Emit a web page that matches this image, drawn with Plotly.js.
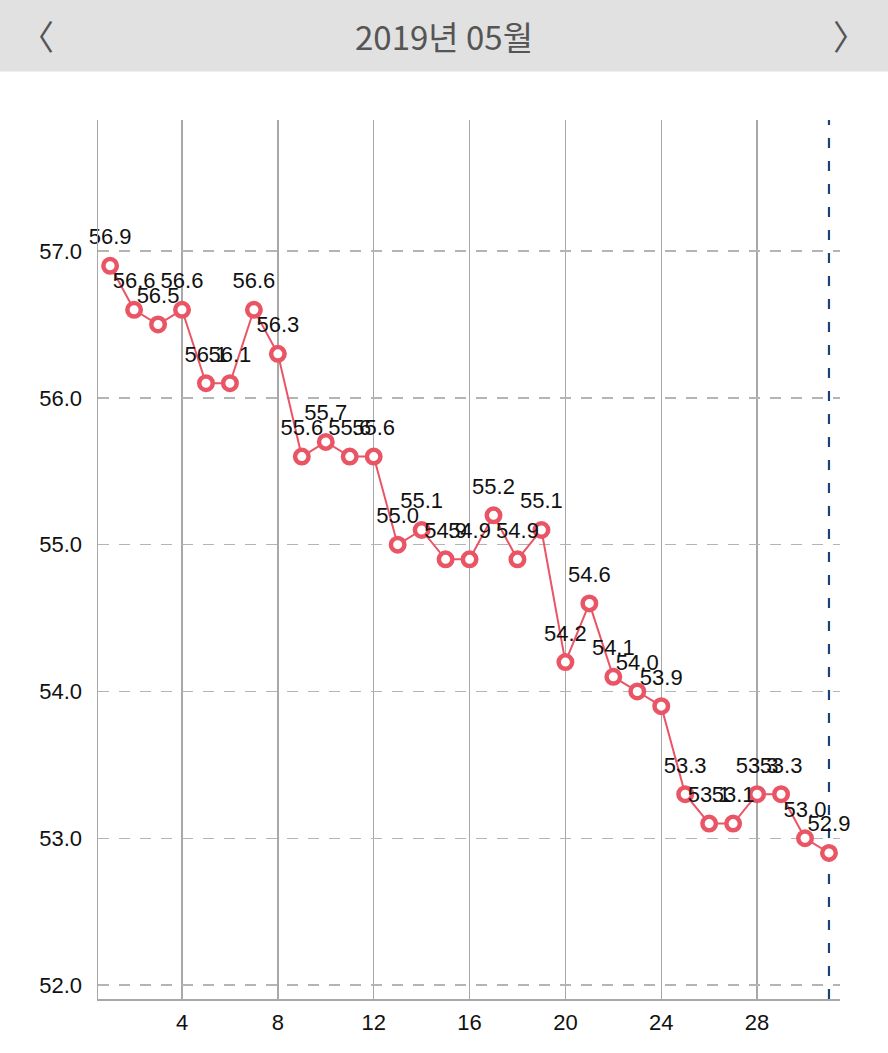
<!DOCTYPE html>
<html>
<head>
<meta charset="utf-8">
<script src="https://cdn.plot.ly/plotly-3.0.1.min.js"></script>
<style>
  html, body { margin: 0; padding: 0; background: #ffffff; }
  #chart { width: 888px; height: 1053px; }
</style>
</head>
<body>
<div id="chart"></div>
<script>
const days = [1,2,3,4,5,6,7,8,9,10,11,12,13,14,15,16,17,18,19,20,21,22,23,24,25,26,27,28,29,30,31];
const weights = [56.9,56.6,56.5,56.6,56.1,56.1,56.6,56.3,55.6,55.7,55.6,55.6,55.0,55.1,54.9,54.9,55.2,54.9,55.1,54.2,54.6,54.1,54.0,53.9,53.3,53.1,53.1,53.3,53.3,53.0,52.9];
const xTicks = [4,8,12,16,20,24,28];
const xTickLabels = ['4','8','12','16','20','24','28'];
const yTicks = [52,53,54,55,56,57];
const yTickLabels = ['52.0','53.0','54.0','55.0','56.0','57.0'];
const headerTitle = '2019년 05월';
const markerDay = 31;

const labels = weights.map(v => v.toFixed(1));
const FONT = 'Liberation Sans, Arial, Helvetica, sans-serif';

const lineTrace = {
  x: days,
  y: weights,
  mode: 'lines+markers',
  line: {color: '#ea5566', width: 2},
  marker: {size: 13.5, color: '#ffffff', line: {color: '#ea5566', width: 4.5}},
  cliponaxis: false,
  hoverinfo: 'none',
  showlegend: false
};

const labelTrace = {
  x: days,
  y: weights,
  mode: 'markers+text',
  text: labels,
  textposition: 'top center',
  textfont: {family: FONT, size: 22, color: '#111111'},
  marker: {size: 24, color: 'rgba(0,0,0,0)', line: {width: 0}},
  cliponaxis: false,
  hoverinfo: 'none',
  showlegend: false
};

const layout = {
  width: 888,
  height: 1053,
  margin: {l: 98, r: 48, t: 120, b: 54},
  paper_bgcolor: '#ffffff',
  plot_bgcolor: '#ffffff',
  font: {family: FONT, size: 21, color: '#111111'},
  xaxis: {
    range: [0.494, 31.46],
    tickmode: 'array',
    tickvals: xTicks,
    ticktext: xTickLabels,
    showgrid: true,
    gridcolor: '#a8a8a8',
    gridwidth: 1.3,
    zeroline: false,
    showline: true,
    linecolor: '#a8a8a8',
    linewidth: 2,
    ticks: 'outside',
    ticklen: 3,
    tickcolor: 'rgba(0,0,0,0)',
    tickfont: {family: FONT, size: 22, color: '#111111'},
    fixedrange: true
  },
  yaxis: {
    range: [51.905, 57.893],
    tickmode: 'array',
    tickvals: yTicks,
    ticktext: yTickLabels,
    showgrid: true,
    gridcolor: '#b4b4b4',
    gridwidth: 1.3,
    griddash: '11px,10px',
    zeroline: false,
    showline: true,
    linecolor: '#a8a8a8',
    linewidth: 1.5,
    ticks: 'outside',
    ticklen: 10,
    tickcolor: 'rgba(0,0,0,0)',
    tickfont: {family: FONT, size: 22, color: '#111111'},
    fixedrange: true
  },
  shapes: [
    {type: 'rect', xref: 'paper', yref: 'paper', x0: -0.2, x1: 1.1, y0: 1.0553, y1: 1.2, fillcolor: '#e1e1e1', line: {width: 0}, layer: 'below'},
    {type: 'line', xref: 'x', yref: 'paper', x0: markerDay, x1: markerDay, y0: 0, y1: 1, line: {color: '#1b4279', width: 2.2, dash: '10px,13px'}, layer: 'below'}
  ],
  annotations: [
    {xref: 'paper', yref: 'paper', x: 0.466, y: 1.096, text: headerTitle, showarrow: false, xanchor: 'center', yanchor: 'middle', font: {family: 'Noto Sans CJK KR, Liberation Sans, sans-serif', size: 33, color: '#555555'}},
    {xref: 'paper', yref: 'paper', x: -0.082, y: 1.096, text: '〈', showarrow: false, xanchor: 'center', yanchor: 'middle', font: {family: 'Noto Sans CJK KR, sans-serif', size: 34, color: '#555555'}},
    {xref: 'paper', yref: 'paper', x: 1.013, y: 1.096, text: '〉', showarrow: false, xanchor: 'center', yanchor: 'middle', font: {family: 'Noto Sans CJK KR, sans-serif', size: 34, color: '#555555'}}
  ]
};

Plotly.newPlot('chart', [lineTrace, labelTrace], layout, {displayModeBar: false, staticPlot: true});
</script>
</body>
</html>
